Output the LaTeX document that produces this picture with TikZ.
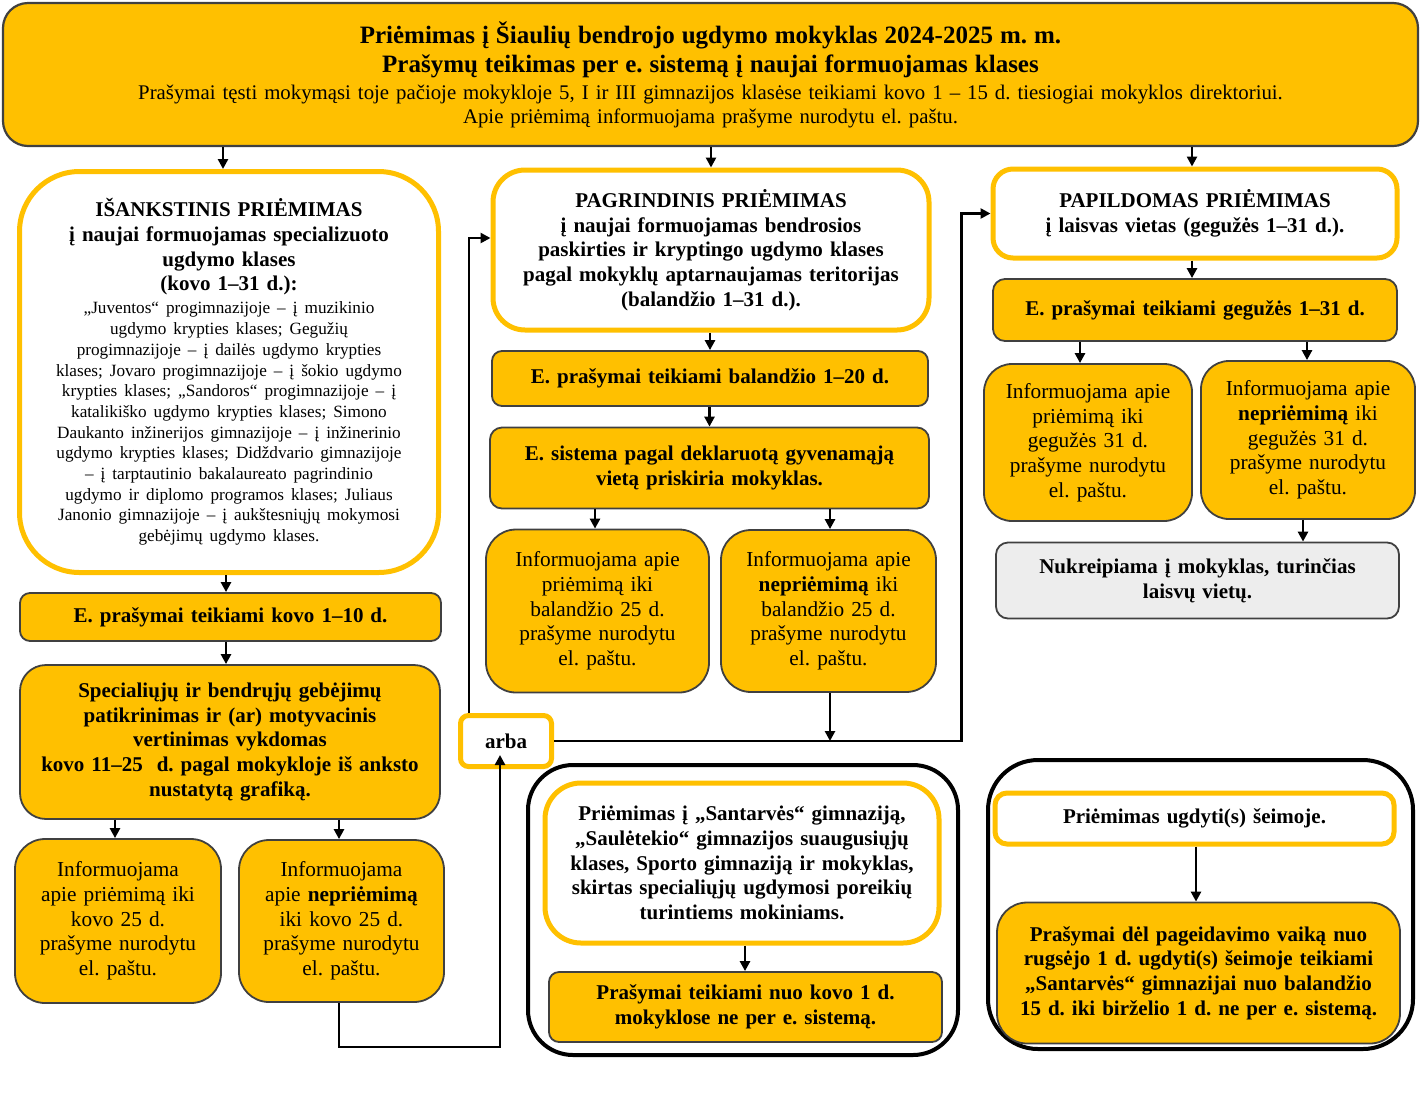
\documentclass[tikz,border=0pt]{standalone}
\usepackage{fontspec}
\setmainfont{Liberation Serif}
\usetikzlibrary{arrows.meta}
\definecolor{gold}{HTML}{FFC000}
\definecolor{edge}{HTML}{404040}
\definecolor{paleg}{HTML}{EDEDED}
\newcommand\bfs{\fontsize{21}{24.7}\selectfont\bfseries}
\newcommand\rgs{\fontsize{21.3}{24.7}\selectfont}
\newcommand\sms{\fontsize{17.2}{20.7}\selectfont}
\tikzset{
  base/.style={inner sep=0pt, align=center, font=\bfs},
  dim/.style n args={3}{minimum width=#1pt, text width=#1pt, minimum height=#2pt, rounded corners=#3pt},
  gold box/.style={base, draw=edge, fill=gold, line width=1.8pt},
  gray box/.style={base, draw=edge, fill=paleg, line width=1.8pt},
  white box/.style={base, draw=gold, fill=white, line width=5pt},
  frame box/.style={draw=black, line width=4pt, inner sep=0pt},
  arr/.style={line width=2.6pt, -{Triangle[length=10pt,width=10pt]}},
}
\begin{document}
\frenchspacing
\begin{tikzpicture}[x=1pt,y=-1pt]
\useasboundingbox (0,0) rectangle (1421,1096);

% header
\node[gold box, line width=2.2pt, dim={1415}{143}{25}] (H) at (710.5,74.5)
 {{\fontsize{25}{29}\selectfont\bfseries Priėmimas į Šiaulių bendrojo ugdymo mokyklas 2024-2025 m. m.\\
 Prašymų teikimas per e. sistemą į naujai formuojamas klases\par}\vspace{3pt}%
 {\fontsize{20.8}{24}\selectfont\mdseries Prašymai tęsti mokymąsi toje pačioje mokykloje 5, I ir III gimnazijos klasėse teikiami kovo 1 – 15 d. tiesiogiai mokyklos direktoriui.\\
 Apie priėmimą informuojama prašyme nurodytu el. paštu.\par}};

% left column
\node[white box, dim={419}{401}{60}] (A) at (229,372)
 {{\bfs IŠANKSTINIS PRIĖMIMAS\\ į naujai formuojamas specializuoto\\ ugdymo klases\\ (kovo 1–31 d.):\par}\vspace{2.3pt}%
 {\sms\mdseries „Juventos“ progimnazijoje – į muzikinio\\
 ugdymo krypties klases; Gegužių\\
 progimnazijoje – į dailės ugdymo krypties\\
 klases; Jovaro progimnazijoje – į šokio ugdymo\\
 krypties klases; „Sandoros“ progimnazijoje – į\\
 katalikiško ugdymo krypties klases; Simono\\
 Daukanto inžinerijos gimnazijoje – į inžinerinio\\
 ugdymo krypties klases; Didždvario gimnazijoje\\
 – į tarptautinio bakalaureato pagrindinio\\
 ugdymo ir diplomo programos klases; Juliaus\\
 Janonio gimnazijoje – į aukštesniųjų mokymosi\\
 gebėjimų ugdymo klases.\par}};
\node[gold box, dim={421}{48}{10}] (B) at (230.5,617) {E. prašymai teikiami kovo 1–10 d.};
\node[gold box, dim={420}{154}{26}] (C) at (230,742)
 {Specialiųjų ir bendrųjų gebėjimų\\ patikrinimas ir (ar) motyvacinis\\ vertinimas vykdomas\\ kovo 11–25\ \ d. pagal mokykloje iš anksto\\ nustatytą grafiką.};
\node[gold box, dim={206}{164}{30}, font=\rgs] (D) at (118,921)
 {Informuojama\\ apie priėmimą iki\\ kovo 25 d.\\ prašyme nurodytu\\ el. paštu.};
\node[gold box, dim={205}{162}{30}, font=\rgs] (E) at (341.5,921)
 {Informuojama\\ apie \textbf{nepriėmimą}\\ iki kovo 25 d.\\ prašyme nurodytu\\ el. paštu.};
\node[white box, dim={91}{51}{8}] (arba) at (506,741) {arba};

% middle column
\node[white box, dim={436}{160}{32}] (P) at (711,250)
 {PAGRINDINIS PRIĖMIMAS\\ į naujai formuojamas bendrosios\\ paskirties ir kryptingo ugdymo klases\\ pagal mokyklų aptarnaujamas teritorijas\\ (balandžio 1–31 d.).};
\node[gold box, dim={436}{55}{10}] (P2) at (710,378.5) {E. prašymai teikiami balandžio 1–20 d.};
\node[gold box, dim={439}{81}{12}] (P3) at (709.5,468)
 {E. sistema pagal deklaruotą gyvenamąją\\ vietą priskiria mokyklas.};
\node[gold box, dim={223}{163}{30}, font=\rgs] (P4) at (597.5,611)
 {Informuojama apie\\ priėmimą iki\\ balandžio 25 d.\\ prašyme nurodytu\\ el. paštu.};
\node[gold box, dim={215}{162}{30}, font=\rgs] (P5) at (828.5,611)
 {Informuojama apie\\ \textbf{nepriėmimą} iki\\ balandžio 25 d.\\ prašyme nurodytu\\ el. paštu.};

\node[frame box, minimum width=430pt, minimum height=290pt, rounded corners=45pt] (FM) at (743,910) {};
\node[white box, dim={394}{160}{36}] (M1) at (742,863)
 {Priėmimas į „Santarvės“ gimnaziją,\\ „Saulėtekio“ gimnazijos suaugusiųjų\\ klases, Sporto gimnaziją ir mokyklas,\\ skirtas specialiųjų ugdymosi poreikių\\ turintiems mokiniams.};
\node[gold box, dim={393}{70}{10}] (M2) at (745.5,1007)
 {Prašymai teikiami nuo kovo 1 d.\\ mokyklose ne per e. sistemą.};

% right column
\node[white box, dim={404}{89}{20}] (R) at (1195,213.5)
 {PAPILDOMAS PRIĖMIMAS\\ į laisvas vietas (gegužės 1–31 d.).};
\node[gold box, dim={404}{62}{12}] (R2) at (1195,310) {E. prašymai teikiami gegužės 1–31 d.};
\node[gold box, dim={208}{157}{28}, font=\rgs] (R3) at (1088,442.5)
 {Informuojama apie\\ priėmimą iki\\ gegužės 31 d.\\ prašyme nurodytu\\ el. paštu.};
\node[gold box, dim={214}{158}{28}, font=\rgs] (R4) at (1308,440)
 {Informuojama apie\\ \textbf{nepriėmimą} iki\\ gegužės 31 d.\\ prašyme nurodytu\\ el. paštu.};
\node[gray box, dim={403}{76}{12}] (R5) at (1197.5,580.5)
 {Nukreipiama į mokyklas, turinčias\\ laisvų vietų.};

\node[frame box, minimum width=425pt, minimum height=289pt, rounded corners=50pt] (FR) at (1200.5,904.5) {};
\node[white box, dim={399}{51}{12}] (R6) at (1194.5,818.5) {Priėmimas ugdyti(s) šeimoje.};
\node[gold box, dim={403}{141}{30}] (R7) at (1198.5,973)
 {Prašymai dėl pageidavimo vaiką nuo\\ rugsėjo 1 d. ugdyti(s) šeimoje teikiami\\ „Santarvės“ gimnazijai nuo balandžio\\ 15 d. iki birželio 1 d. ne per e. sistemą.};

% connectors
\draw[arr] ([xshift=-6pt]A.north |- H.south) -- ([xshift=-6pt]A.north);
\draw[arr] (P.north |- H.south) -- (P.north);
\draw[arr] ([xshift=-3pt]R.north |- H.south) -- ([xshift=-3pt]R.north);
\draw[arr] ([xshift=-3pt]A.south) -- ([xshift=-3pt]A.south |- B.north);
\draw[arr] ([xshift=-4.5pt]B.south) -- ([xshift=-4.5pt]B.south |- C.north);
\draw[arr] ([xshift=-3pt]D.north |- C.south) -- ([xshift=-3pt]D.north);
\draw[arr] ([xshift=-2.5pt]E.north |- C.south) -- ([xshift=-2.5pt]E.north);
\draw[arr] (P2.north |- P.south) -- (P2.north);
\draw[arr] (P3.north |- P2.south) -- (P3.north);
\draw[arr] ([xshift=-2.5pt]P4.north |- P3.south) -- ([xshift=-2.5pt]P4.north);
\draw[arr] ([xshift=1.5pt]P5.north |- P3.south) -- ([xshift=1.5pt]P5.north);
\draw[arr] ([xshift=1.5pt]P5.south) -- ([xshift=1.5pt]P5.south |- arba.east);
\draw[arr] (arba.east) -| ([xshift=-29pt]R.west) -- (R.west);
\draw[arr] ([xshift=-37pt]arba.north) |- ([yshift=12pt]P.west);
\draw[arr] ([xshift=-2.5pt]E.south) -- ++(0,44) -| ([xshift=-6pt,yshift=14pt]arba.south);
\draw[arr] ([xshift=-3pt]R2.north |- R.south) -- ([xshift=-3pt]R2.north);
\draw[arr] ([xshift=-8pt]R3.north |- R2.south) -- ([xshift=-8pt]R3.north);
\draw[arr] ([xshift=-1pt]R4.north |- R2.south) -- ([xshift=-1pt]R4.north);
\draw[arr] ([xshift=-5pt]R4.south) -- ([xshift=-5pt]R4.south |- R5.north);
\draw[arr] ([xshift=3pt]M1.south) -- ([xshift=3pt]M1.south |- M2.north);
\draw[arr] ([xshift=1.5pt]R6.south) -- ([xshift=1.5pt]R6.south |- R7.north);
\end{tikzpicture}
\end{document}
